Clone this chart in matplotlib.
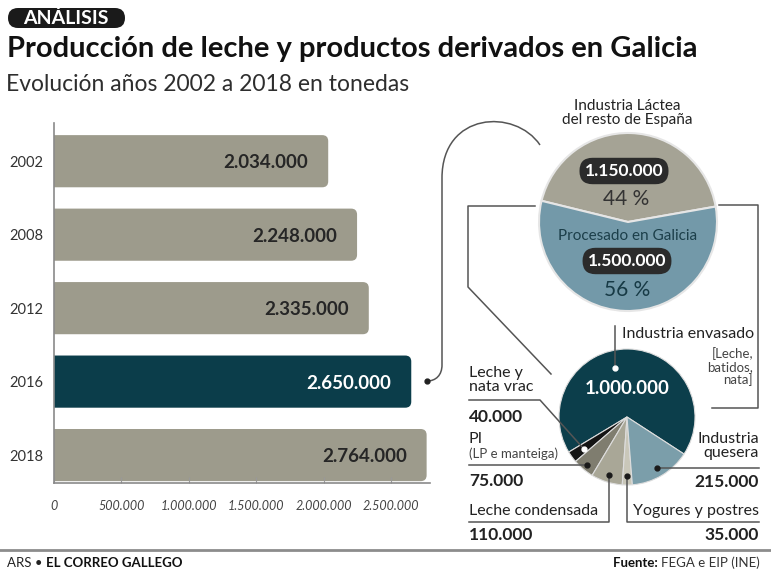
import numpy as np
import matplotlib.pyplot as plt
from matplotlib.patches import FancyBboxPatch, PathPatch
from matplotlib.path import Path

plt.rcParams['font.family'] = ['Lato', 'DejaVu Sans']

# datos
years = ['2002', '2008', '2012', '2016', '2018']
produccion = [2034000, 2248000, 2335000, 2650000, 2764000]
x_ticks = [0, 500000, 1000000, 1500000, 2000000, 2500000]
x_tick_labels = ['0', '500.000', '1.000.000', '1.500.000', '2.000.000', '2.500.000']

destino = ['Industria Láctea\ndel resto de España', 'Procesado en Galicia']
destino_val = [1150000, 1500000]
destino_pct = ['44 %', '56 %']

productos = ['Industria envasado', 'Leche y\nnata vrac', 'PI', 'Leche condensada',
             'Yogures y postres', 'Industria\nquesera']
productos_val = [1000000, 40000, 75000, 110000, 35000, 215000]


def miles(v):
    return f'{v:,}'.replace(',', '.')


W, H = 771, 581
fig = plt.figure(figsize=(W / 100, H / 100), dpi=100)
fig.patch.set_facecolor('white')


def px_axes(x0, y0, x1, y1):
    return fig.add_axes([x0 / W, 1 - y1 / H, (x1 - x0) / W, (y1 - y0) / H])


# ---- barras ----
gris = '#9d9b8c'
teal = '#0b3d4a'
ax = px_axes(54, 123, 430, 483)
xmax = 2789000
ax.set_xlim(0, xmax)
ax.set_ylim(4.38, -0.52)
rx = 6 * xmax / 376
ry = 6 / 73.5
for i, v in enumerate(produccion):
    col = teal if years[i] == '2016' else gris
    box = FancyBboxPatch((-2 * rx, i - 0.355), v + 2 * rx, 0.71,
                         boxstyle=f'round,pad=0,rounding_size={rx}',
                         mutation_aspect=ry / rx, fc=col, ec='none')
    ax.add_patch(box)
    tcol = 'white' if years[i] == '2016' else '#262626'
    ax.text(v - 20 * xmax / 376, i + 0.02, miles(v), ha='right', va='center',
            fontsize=13.5, fontweight='bold', color=tcol)

ax.set_yticks(range(len(years)))
ax.set_yticklabels(years, fontsize=10.5, color='#333333')
ax.tick_params(axis='y', length=0, pad=8)
ax.set_xticks(x_ticks)
ax.set_xticklabels(x_tick_labels, fontsize=9, color='#444444', style='italic')
ax.tick_params(axis='x', direction='in', length=4, color='#999999', pad=12)
for s in ['top', 'right']:
    ax.spines[s].set_visible(False)
for s in ['left', 'bottom']:
    ax.spines[s].set_color('#8a8a8a')
    ax.spines[s].set_linewidth(1.2)

# ---- tarta superior ----
c1x, c1y, R1 = 628, 222, 89
ax1 = px_axes(c1x - 100, c1y - 100, c1x + 100, c1y + 100)
ax1.pie(destino_val, colors=['#a5a395', '#7399a9'], startangle=10,
        wedgeprops=dict(edgecolor='#e6e6e6', linewidth=1.5))
ax1.set_xlim(-100 / R1, 100 / R1)
ax1.set_ylim(-100 / R1, 100 / R1)

# ---- tarta inferior ----
c2x, c2y, R2 = 627, 417, 68
ax2 = px_axes(c2x - 80, c2y - 80, c2x + 80, c2y + 80)
cols2 = ['#0c3e4b', '#141414', '#7f7d6f', '#a9a797', '#c9c7b9', '#7b9eaa']
wedges, _ = ax2.pie(productos_val, colors=cols2, startangle=-33,
                    wedgeprops=dict(edgecolor='#dddddd', linewidth=0.8))
ax2.set_xlim(-80 / R2, 80 / R2)
ax2.set_ylim(-80 / R2, 80 / R2)

# ---- capa de anotaciones ----
ov = fig.add_axes([0, 0, 1, 1])
ov.set_xlim(0, W)
ov.set_ylim(H, 0)
ov.axis('off')

ov.add_patch(FancyBboxPatch((8, 8), 117, 20, boxstyle='round,pad=0,rounding_size=10',
                            fc='#1a1a1a', ec='none'))
ov.text(66, 18.5, 'ANÁLISIS', ha='center', va='center', color='white',
        fontsize=14, fontweight='bold', fontstyle='normal')
ov.text(7, 57, 'Producción de leche y productos derivados en Galicia',
        fontsize=21, fontweight='bold', color='#111111', va='baseline')
ov.text(6, 91, 'Evolución años 2002 a 2018 en tonedas',
        fontsize=16.5, fontweight='normal', color='#2e2e2e', va='baseline')

# textos tarta superior
ov.text(627, 113, destino[0], ha='center', va='center', fontsize=11,
        color='#222222', linespacing=1.0)
pill = dict(boxstyle='round,pad=0.3,rounding_size=0.75', fc='#2b2b2b', ec='none')
ov.text(624, 171, miles(destino_val[0]), ha='center', va='center', fontsize=12.5,
        fontweight='bold', color='white', bbox=pill)
ov.text(626, 199, destino_pct[0], ha='center', va='center', fontsize=15, color='#333333')
ov.text(628, 236, destino[1], ha='center', va='center', fontsize=11, color='#1c3f4a')
ov.text(627, 261, miles(destino_val[1]), ha='center', va='center', fontsize=12.5,
        fontweight='bold', color='white', bbox=pill)
ov.text(627, 290, destino_pct[1], ha='center', va='center', fontsize=15, color='#173a45')

# conectores
lc = '#555555'
con = Path([(427, 381), (436, 381), (442, 375), (442, 365), (442, 178),
            (442, 112), (515, 108), (540, 145)],
           [Path.MOVETO, Path.CURVE4, Path.CURVE4, Path.CURVE4, Path.LINETO,
            Path.CURVE4, Path.CURVE4, Path.CURVE4])
ov.add_patch(PathPatch(con, fc='none', ec=lc, lw=1.1))
ov.plot([427], [381], 'o', color='#222222', ms=3.5)
ov.plot([535, 468, 468, 551], [206, 206, 287, 374], color=lc, lw=1.1)
ov.plot([719, 758, 758, 712], [205, 205, 408, 408], color=lc, lw=1.1)

# puntos en la tarta inferior
dot_r = [0.74, 0.79, 0.92, 0.9, 0.87, 0.87]
dot_ang = [104, None, None, None, None, None]
dots = []
for w, r, a in zip(wedges, dot_r, dot_ang):
    ang = (w.theta1 + w.theta2) / 2 if a is None else a
    t = np.deg2rad(ang)
    dots.append((c2x + r * R2 * np.cos(t), c2y - r * R2 * np.sin(t)))
dot_cols = ['white', 'white', '#1a1a1a', '#1a1a1a', '#1a1a1a', '#1a1a1a']
for (dx, dy), dc in zip(dots, dot_cols):
    ov.plot([dx], [dy], 'o', color=dc, ms=3.5, zorder=5)

ov.text(c2x, 388, miles(productos_val[0]), ha='center', va='center', fontsize=13.5,
        fontweight='bold', color='white')

# envasado
d = dots[0]
ov.plot([d[0], d[0]], [326, d[1]], color=lc, lw=1.1)
ov.text(622, 334, productos[0], ha='left', va='center', fontsize=11.5, color='#222222')
ov.text(753, 367, '[Leche,\nbatidos,\nnata]', ha='right', va='center', fontsize=9.5,
        color='#444444', linespacing=1.05)

# vrac
d = dots[1]
ov.plot([469, 540, d[0]], [400, 400, d[1]], color=lc, lw=1.1)
ov.text(469, 380, productos[1], ha='left', va='center', fontsize=11.5,
        color='#222222', linespacing=0.95)
ov.text(469, 417, miles(productos_val[1]), ha='left', va='center', fontsize=12.5,
        fontweight='bold', color='#222222')

# PI
d = dots[2]
ov.plot([469, d[0]], [d[1], d[1]], color=lc, lw=1.1)
ov.text(469, 439, productos[2], ha='left', va='center', fontsize=11.5, color='#222222')
ov.text(469, 454, '(LP e manteiga)', ha='left', va='center', fontsize=9.5, color='#444444')
ov.text(469, 481, miles(productos_val[2]), ha='left', va='center', fontsize=12.5,
        fontweight='bold', color='#222222')

# condensada
d = dots[3]
ov.plot([469, d[0], d[0]], [522, 522, d[1]], color=lc, lw=1.1)
ov.text(469, 511, productos[3], ha='left', va='center', fontsize=11.5, color='#222222')
ov.text(469, 535, miles(productos_val[3]), ha='left', va='center', fontsize=12.5,
        fontweight='bold', color='#222222')

# yogures
d = dots[4]
ov.plot([759, d[0], d[0]], [522, 522, d[1]], color=lc, lw=1.1)
ov.text(759, 511, productos[4], ha='right', va='center', fontsize=11.5, color='#222222')
ov.text(759, 535, miles(productos_val[4]), ha='right', va='center', fontsize=12.5,
        fontweight='bold', color='#222222')

# quesera
d = dots[5]
ov.plot([759, d[0]], [d[1], d[1]], color=lc, lw=1.1)
ov.text(759, 446, productos[5], ha='right', va='center', fontsize=11.5,
        color='#222222', linespacing=0.95)
ov.text(759, 482, miles(productos_val[5]), ha='right', va='center', fontsize=12.5,
        fontweight='bold', color='#222222')

# pie de página
ov.plot([0, W], [550, 550], color='#8c8c8c', lw=2)
t1 = ov.text(7, 563, 'ARS • ', ha='left', va='center', fontsize=9.5, color='#222222')
ov.annotate('EL CORREO GALLEGO', xy=(1, 0.5), xycoords=t1, ha='left', va='center',
            fontsize=9.5, fontweight='bold', color='#111111')
t2 = ov.text(760, 563, 'FEGA e EIP (INE)', ha='right', va='center', fontsize=9.5,
             color='#333333')
ov.annotate('Fuente: ', xy=(0, 0.5), xycoords=t2, ha='right', va='center',
            fontsize=9.5, fontweight='bold', color='#111111')

fig.savefig('out.png', dpi=100)
